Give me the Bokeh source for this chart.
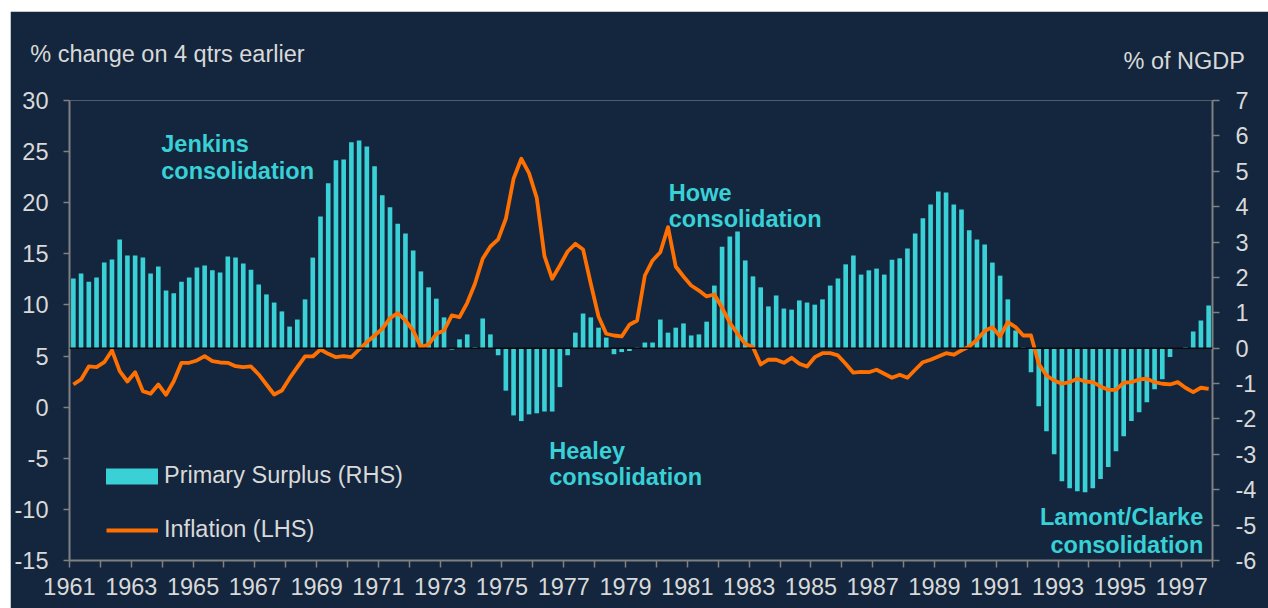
from bokeh.plotting import figure
from bokeh.models import Range1d, LinearAxis, FixedTicker, Label, Legend, LegendItem, Span
from bokeh.embed import file_html
from bokeh.resources import INLINE

# ---------------- data ----------------
start_year = 1961
end_year = 1998

# Primary surplus, % of NGDP (RHS), quarterly 1961Q1 .. 1997Q4
surplus = [
    1.97, 2.11, 1.88, 2.00, 2.42, 2.51, 3.07, 2.62, 2.62, 2.56, 2.11, 2.31,
    1.63, 1.55, 1.88, 2.00, 2.28, 2.34, 2.20, 2.14, 2.59, 2.56, 2.39, 2.22,
    1.80, 1.52, 1.29, 1.04, 0.61, 0.81, 1.38, 2.56, 3.72, 4.66, 5.31, 5.33,
    5.82, 5.87, 5.70, 5.14, 4.32, 3.98, 3.52, 3.24, 2.76, 2.17, 1.72, 1.40,
    0.87, -0.04, 0.25, 0.39, 0.03, 0.84, 0.39, -0.20, -1.20, -1.90, -2.06, -1.87,
    -1.84, -1.79, -1.79, -1.10, -0.20, 0.44, 0.98, 0.87, 0.58, 0.30, -0.17, -0.11,
    -0.08, 0.02, 0.16, 0.16, 0.81, 0.44, 0.58, 0.70, 0.36, 0.39, 0.75, 1.77,
    2.87, 3.16, 3.30, 2.48, 2.03, 1.72, 1.18, 1.49, 1.12, 1.09, 1.35, 1.29,
    1.23, 1.38, 1.77, 1.97, 2.37, 2.62, 2.08, 2.20, 2.25, 2.08, 2.50, 2.54,
    2.82, 3.24, 3.67, 4.06, 4.43, 4.40, 4.06, 3.92, 3.33, 3.07, 2.93, 2.42,
    2.05, 1.38, 0.50, 0.02, -0.68, -1.64, -2.35, -3.00, -3.76, -3.96, -4.04, -4.07,
    -3.96, -3.70, -3.36, -2.91, -2.49, -2.06, -1.81, -1.53, -1.16, -0.88, -0.25, 0.00,
    0.03, 0.47, 0.78, 1.21,
]

# Inflation, % change on 4 qtrs earlier (LHS), quarterly 1961Q1 .. 1997Q4
inflation = [
    2.22, 2.71, 3.98, 3.91, 4.40, 5.55, 3.52, 2.51, 3.42, 1.57, 1.31, 2.22,
    1.21, 2.54, 4.34, 4.34, 4.57, 4.99, 4.50, 4.37, 4.34, 4.01, 3.91, 3.98,
    3.20, 2.22, 1.24, 1.63, 2.84, 3.91, 4.96, 4.96, 5.64, 5.22, 4.89, 4.99,
    4.89, 5.64, 6.36, 7.01, 7.67, 8.71, 9.20, 8.48, 7.50, 5.87, 6.13, 7.18,
    7.50, 8.97, 8.80, 10.21, 12.07, 14.52, 15.72, 16.41, 18.43, 22.34, 24.30, 22.89,
    20.48, 14.77, 12.56, 13.86, 15.23, 15.98, 15.43, 12.07, 8.87, 7.18, 7.01, 6.92,
    8.06, 8.48, 12.88, 14.35, 15.16, 17.61, 13.76, 12.78, 11.90, 11.41, 10.83, 11.02,
    9.72, 8.26, 7.18, 6.20, 5.87, 4.18, 4.64, 4.64, 4.34, 4.83, 4.25, 3.98,
    4.89, 5.28, 5.28, 5.06, 4.25, 3.37, 3.45, 3.42, 3.66, 3.27, 2.88, 3.17,
    2.88, 3.66, 4.40, 4.64, 4.96, 5.28, 5.13, 5.55, 5.94, 6.59, 7.45, 7.83,
    6.92, 8.32, 7.83, 7.01, 7.01, 4.25, 3.10, 2.61, 2.29, 2.45, 2.78, 2.51,
    2.45, 2.03, 1.70, 1.70, 2.39, 2.45, 2.71, 2.78, 2.45, 2.29, 2.22, 2.45,
    1.90, 1.47, 1.90, 1.80,
]

quarters = [f"{start_year + i // 4}Q{i % 4 + 1}" for i in range(len(surplus))]
# centre of each quarter on a continuous year axis
xq = [int(q[:4]) + (int(q[-1]) - 0.5) / 4 for q in quarters]

lhs_ticks = list(range(-15, 31, 5))
rhs_ticks = list(range(-6, 8))
year_ticks = list(range(start_year, end_year + 1))
year_labels = {y: (str(y) if (y - start_year) % 2 == 0 else "") for y in year_ticks}

# ---------------- style ----------------
BG = "#13263E"
CYAN = "#39D0D6"
ORANGE = "#FF7000"
AXIS = "#808080"
TXT = "#D9D9D9"
FONT = "Liberation Sans"
FS = "23.5px"

p = figure(
    frame_width=1143, frame_height=460,
    min_border_left=59, min_border_right=56, min_border_top=89, min_border_bottom=48,
    x_range=Range1d(start_year, end_year), y_range=Range1d(-15, 30),
    output_backend="svg", toolbar_location=None,
    background_fill_color=BG, border_fill_color=BG, outline_line_color=None,
)
p.margin = (11, 0, 0, 10)
p.extra_y_ranges = {"rhs": Range1d(-6, 7)}
p.xgrid.visible = False
p.ygrid.visible = False

bars = p.vbar(x=xq, top=surplus, bottom=0, width=0.15, y_range_name="rhs",
              fill_color=CYAN, line_color=None)
zero = Span(location=0, dimension="width", y_range_name="rhs",
            line_color="#0B0B0B", line_width=1.5)
p.add_layout(zero)
line = p.line(x=xq, y=inflation, line_color=ORANGE, line_width=3.8, line_join="round")


def style_axis(ax, tick_out, standoff):
    ax.axis_line_color = AXIS
    ax.axis_line_width = 2
    ax.major_tick_line_color = AXIS
    ax.major_tick_line_width = 1.5
    ax.major_tick_out = tick_out
    ax.major_tick_in = 0
    ax.minor_tick_line_color = None
    ax.major_label_text_color = TXT
    ax.major_label_text_font = FONT
    ax.major_label_text_font_size = FS
    ax.major_label_standoff = standoff


yl = p.yaxis[0]
yl.ticker = FixedTicker(ticks=lhs_ticks)
yl.major_label_overrides = {t: str(t) for t in lhs_ticks}
style_axis(yl, 6, 15)

xb = p.xaxis[0]
xb.ticker = FixedTicker(ticks=year_ticks)
xb.major_label_overrides = year_labels
style_axis(xb, 7, 10)

yr = LinearAxis(y_range_name="rhs", ticker=FixedTicker(ticks=rhs_ticks))
yr.major_label_overrides = {t: str(t) for t in rhs_ticks}
style_axis(yr, 7, 16)
p.add_layout(yr, "right")

# legends
def make_legend(label, rend, gw, standoff, loc):
    lg = Legend(items=[LegendItem(label=label, renderers=[rend])], location=loc,
                glyph_width=gw, glyph_height=20, label_height=20,
                label_standoff=standoff, padding=0, margin=0, spacing=0,
                background_fill_alpha=0, border_line_alpha=0,
                label_text_color=TXT, label_text_font=FONT, label_text_font_size=FS)
    p.add_layout(lg)

make_legend("Primary Surplus (RHS)", bars, 65, 0, (30, 71))
make_legend("Inflation (LHS)", line, 52, 6, (37, 17))

# axis titles (placed in the top panel so they are not clipped to the frame)
p.add_layout(Label(x=1959.73, y=34.57, text="% change on 4 qtrs earlier", text_color=TXT,
                   text_font=FONT, text_font_size=FS, text_baseline="alphabetic"), "above")
p.add_layout(Label(x=1999.05, y=33.82, text="% of NGDP", text_color=TXT, text_align="right",
                   text_font=FONT, text_font_size=FS, text_baseline="alphabetic"), "above")

# annotations
notes = [
    ("Jenkins", 1963.97, 25.73, "left"), ("consolidation", 1963.97, 23.12, "left"),
    ("Howe", 1980.40, 21.00, "left"), ("consolidation", 1980.40, 18.39, "left"),
    ("Healey", 1976.53, -4.27, "left"), ("consolidation", 1976.53, -6.81, "left"),
    ("Lamont/Clarke", 1997.70, -10.79, "right"), ("consolidation", 1997.70, -13.50, "right"),
]
for t, nx, ny, al in notes:
    p.add_layout(Label(x=nx, y=ny, text=t, text_color=CYAN, text_font=FONT,
                       text_font_size=FS, text_font_style="bold", text_align=al,
                       text_baseline="alphabetic"))

open("out.html", "w").write(file_html(p, INLINE))
